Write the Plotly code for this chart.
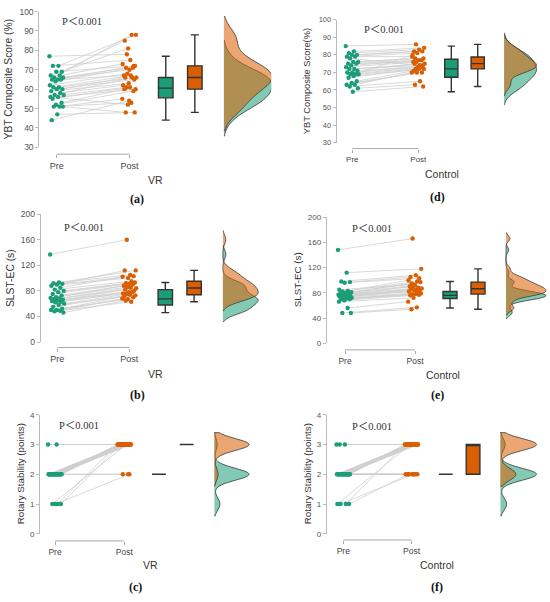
"""
Raincloud-style paired plots: Pre/Post for VR and Control groups.
Six panels: YBT composite, SLST-EC, rotary stability.
"""

import plotly.graph_objects as go

W, H = 550, 602
TEAL = "#1B9E77"
ORANGE = "#D95F02"
TEAL_A = "rgba(27,158,119,0.55)"
ORANGE_A = "rgba(217,95,2,0.55)"
SANS = "Liberation Sans, Arial, sans-serif"
SERIF = "Liberation Serif, Times New Roman, serif"

# ---- data (one entry per subject, pre/post paired) ----
ybt_vr_pre = [77, 72, 72, 69, 69, 67, 67, 66, 66, 65, 65, 65, 64, 62, 61, 61,
              60, 60, 59, 58, 57, 57, 56, 55, 53, 52, 56, 51, 51, 51, 47, 44]
ybt_vr_post = [78, 88, 75, 85, 72, 81, 73, 88, 71, 72, 70, 67, 71, 68, 66, 67,
               66, 65, 63, 62, 66, 61, 60, 61, 60, 59, 52, 55, 53, 48, 48, 54]

ybt_ctl_pre = [85, 82, 81, 80, 80, 79, 79, 78, 76, 76, 75, 75, 74, 73, 72, 72,
               71, 70, 70, 69, 69, 69, 68, 67, 65, 64, 63, 63, 62, 61, 59]
ybt_ctl_post = [86, 84, 83, 82, 82, 81, 79, 74, 78, 78, 77, 76, 77, 76, 75, 74,
                75, 74, 73, 80, 73, 72, 72, 72, 71, 70, 70, 70, 65, 63, 62]

slst_vr_pre = [137, 93, 92, 91, 90, 88, 85, 82, 80, 78, 75, 73, 70, 69, 68,
               67, 66, 65, 64, 63, 62, 60, 58, 55, 52, 50, 50, 49, 48, 46]
slst_vr_post = [160, 112, 105, 112, 103, 100, 102, 95, 92, 93, 91, 88, 90, 86, 84,
                85, 82, 80, 78, 76, 78, 75, 73, 74, 72, 70, 67, 68, 63, 65]

slst_ctl_pre = [148, 112, 98, 97, 96, 85, 83, 82, 81, 80, 79, 78, 77, 77, 76,
                76, 75, 75, 74, 74, 73, 72, 71, 70, 70, 68, 66, 56, 48, 48]
slst_ctl_post = [166, 118, 108, 105, 103, 93, 100, 98, 95, 97, 92, 90, 88, 90, 87,
                 85, 86, 83, 84, 82, 80, 78, 79, 78, 76, 77, 72, 66, 57, 54]

rot_vr_pre = [3, 3, 2, 2, 2, 2, 2, 2, 2, 2, 2, 2, 2, 2, 2, 2,
              2, 2, 2, 2, 2, 2, 2, 2, 2, 2, 2, 1, 1, 1, 1]
rot_vr_post = [3, 3, 3, 3, 3, 3, 3, 3, 3, 3, 3, 3, 3, 3, 3, 3,
               3, 3, 3, 3, 3, 3, 3, 3, 3, 2, 2, 3, 3, 3, 2]

rot_ctl_pre = [3, 3, 3, 2, 2, 2, 2, 2, 2, 2, 2, 2, 2, 2, 2, 2,
               2, 2, 2, 2, 2, 2, 2, 2, 2, 2, 1, 1, 1, 1]
rot_ctl_post = [3, 3, 3, 3, 3, 3, 3, 3, 3, 3, 3, 3, 3, 3, 3, 3,
                3, 3, 3, 2, 2, 2, 2, 2, 2, 2, 3, 3, 2, 2]

ybt_ticks = [30, 40, 50, 60, 70, 80, 90, 100]
slst_ticks = [0, 40, 80, 120, 160, 200]
rot_ticks = [0, 1, 2, 3, 4]
p_label = "P\uff1c0.001"

# ---- panel geometry in pixels (layout only) ----
panels = [
    dict(pre=ybt_vr_pre, post=ybt_vr_post, ticks=ybt_ticks, bw=None, vw=1.32,
         ytitle="YBT Composite Score (%)", group="VR", letter="(a)",
         ax=39.3, x0=56.7, unit=72.7, top=6.7, bot=144.7, brk=151.7,
         tx=8, gx=155, gy=178, lx=137, ly=197, px=82, py=17, fs=8.5),
    dict(pre=ybt_ctl_pre, post=ybt_ctl_post, ticks=ybt_ticks, bw=None, vw=0.98,
         ytitle="YBT Composite Score(%)", group="Control", letter="(d)",
         ax=336.7, x0=352.3, unit=66, top=15, bot=140, brk=146,
         tx=307, gx=442, gy=172, lx=437, ly=195, px=384, py=25, fs=7.5),
    dict(pre=slst_vr_pre, post=slst_vr_post, ticks=slst_ticks, bw=7, vw=0.98,
         ytitle="SLST-EC (s)", group="VR", letter="(b)",
         ax=40.7, x0=57.3, unit=72, top=212.7, bot=342.7, brk=348.3,
         tx=10, gx=155, gy=375, lx=137, ly=397, px=84, py=226, fs=8.5),
    dict(pre=slst_ctl_pre, post=slst_ctl_post, ticks=slst_ticks, bw=4.5, vw=1.14,
         ytitle="SLST-EC (s)", group="Control", letter="(e)",
         ax=326.7, x0=345, unit=70, top=215.7, bot=344, brk=350.7,
         tx=297, gx=443, gy=376, lx=437, ly=397, px=372, py=227, fs=8),
    dict(pre=rot_vr_pre, post=rot_vr_post, ticks=rot_ticks, bw=0.2, vw=1.0,
         ytitle="Rotary Stability (points)", group="VR", letter="(c)",
         ax=40, x0=55, unit=69.3, top=416.7, bot=537.7, brk=545,
         tx=20, gx=150, gy=569, lx=135, ly=592, px=79, py=428, fs=8),
    dict(pre=rot_ctl_pre, post=rot_ctl_post, ticks=rot_ticks, bw=0.2, vw=1.06,
         ytitle="Rotary Stability (points)", group="Control", letter="(f)",
         ax=326.7, x0=343.3, unit=68.3, top=416.7, bot=537.7, brk=544,
         tx=307, gx=437, gy=569, lx=437, ly=592, px=372, py=429, fs=8),
]

BOX_PRE, BOX_POST, BOX_W, VIO_X = 1.5, 1.9, 0.2, 2.3


def jitter(i, spread=0.2):
    # deterministic low-discrepancy spread, not random
    return ((i * 0.6180339887) % 1 - 0.5) * spread


fig = go.Figure()
annotations, shapes = [], []

for k, p in enumerate(panels, start=1):
    xa = "x" if k == 1 else f"x{k}"
    ya = "y" if k == 1 else f"y{k}"
    pre, post = p["pre"], p["post"]

    jp = [jitter(i) for i in range(len(pre))]
    jq = [jitter(i + 7) for i in range(len(post))]

    # paired lines
    lx, ly = [], []
    for i in range(len(pre)):
        lx += [0 + jp[i], 1 + jq[i], None]
        ly += [pre[i], post[i], None]
    fig.add_trace(go.Scatter(x=lx, y=ly, mode="lines", xaxis=xa, yaxis=ya,
                             line=dict(color="#cfcfcf", width=0.8),
                             hoverinfo="skip"))
    fig.add_trace(go.Scatter(x=[0 + j for j in jp], y=pre, mode="markers",
                             xaxis=xa, yaxis=ya, cliponaxis=False,
                             marker=dict(color=TEAL, size=4.4)))
    fig.add_trace(go.Scatter(x=[1 + j for j in jq], y=post, mode="markers",
                             xaxis=xa, yaxis=ya, cliponaxis=False,
                             marker=dict(color=ORANGE, size=4.4)))

    # boxes (outliers computed by plotly but hidden, like the original)
    for vals, pos, col in [(pre, BOX_PRE, TEAL), (post, BOX_POST, ORANGE)]:
        fig.add_trace(go.Box(y=vals, x0=pos, width=BOX_W, xaxis=xa, yaxis=ya,
                             fillcolor=col, boxpoints="outliers", jitter=0,
                             marker=dict(opacity=0, size=1),
                             whiskerwidth=0.55,
                             line=dict(color="#333333", width=1.4)))

    # half densities
    for vals, col in [(pre, TEAL_A), (post, ORANGE_A)]:
        vkw = dict(bandwidth=p["bw"]) if p["bw"] else {}
        fig.add_trace(go.Violin(y=vals, x0=VIO_X, side="positive", width=p["vw"],
                                xaxis=xa, yaxis=ya, scalegroup=f"g{k}",
                                scalemode="width", spanmode="soft", points=False,
                                fillcolor=col, line=dict(color="#3a3a3a", width=0.8),
                                **vkw))

    xmin = (p["ax"] - p["x0"]) / p["unit"]
    right = min(p["x0"] + 2.95 * p["unit"], 549)
    xmax = (right - p["x0"]) / p["unit"]
    brk_y = 1 - p["brk"] / H
    tk = p["ticks"]

    fig.layout[("xaxis" if k == 1 else f"xaxis{k}")] = dict(
        domain=[p["ax"] / W, right / W], range=[xmin, xmax], type="linear",
        anchor="free", position=brk_y, showline=False, showgrid=False,
        zeroline=False, tickvals=[0, 1], ticktext=["Pre", "Post"],
        ticks="outside", ticklen=3, tickcolor="#aaaaaa",
        tickfont=dict(family=SANS, size=p["fs"] + 0.5, color="#444"))
    fig.layout[("yaxis" if k == 1 else f"yaxis{k}")] = dict(
        domain=[1 - p["bot"] / H, 1 - p["top"] / H], range=[tk[0], tk[-1]],
        anchor=xa, showline=True, linecolor="#bbbbbb", linewidth=1,
        ticks="outside", ticklen=3, tickcolor="#bbbbbb", tickvals=tk,
        showgrid=False, zeroline=False,
        tickfont=dict(family=SANS, size=p["fs"], color="#555"))

    shapes.append(dict(type="line", xref=xa, yref="paper", x0=0, x1=1,
                       y0=brk_y, y1=brk_y, line=dict(color="#aaaaaa", width=1)))

    ymid = 1 - (p["top"] + p["bot"]) / 2 / H
    annotations += [
        dict(text=p["ytitle"], x=p["tx"] / W, y=ymid, textangle=-90,
             font=dict(family=SANS, size=p["fs"] + 1.8, color="#333")),
        dict(text=p["group"], x=p["gx"] / W, y=1 - p["gy"] / H,
             font=dict(family=SANS, size=10.5, color="#333")),
        dict(text=f"<b>{p['letter']}</b>", x=p["lx"] / W, y=1 - p["ly"] / H,
             font=dict(family=SERIF, size=12, color="#111")),
        dict(text=p_label, x=p["px"] / W, y=1 - p["py"] / H,
             font=dict(family=SERIF + ", Noto Sans CJK SC", size=10.5, color="#333")),
    ]

for a in annotations:
    a.update(xref="paper", yref="paper", showarrow=False,
             xanchor="center", yanchor="middle")

fig.update_layout(
    width=W, height=H, margin=dict(l=0, r=0, t=0, b=0),
    paper_bgcolor="white", plot_bgcolor="white",
    showlegend=False, annotations=annotations, shapes=shapes,
    boxmode="overlay", violinmode="overlay",
)

fig.write_html("out.html", config={"displayModeBar": False},
               post_script="document.body.style.margin='0';"
                           "document.body.style.overflow='hidden';")
